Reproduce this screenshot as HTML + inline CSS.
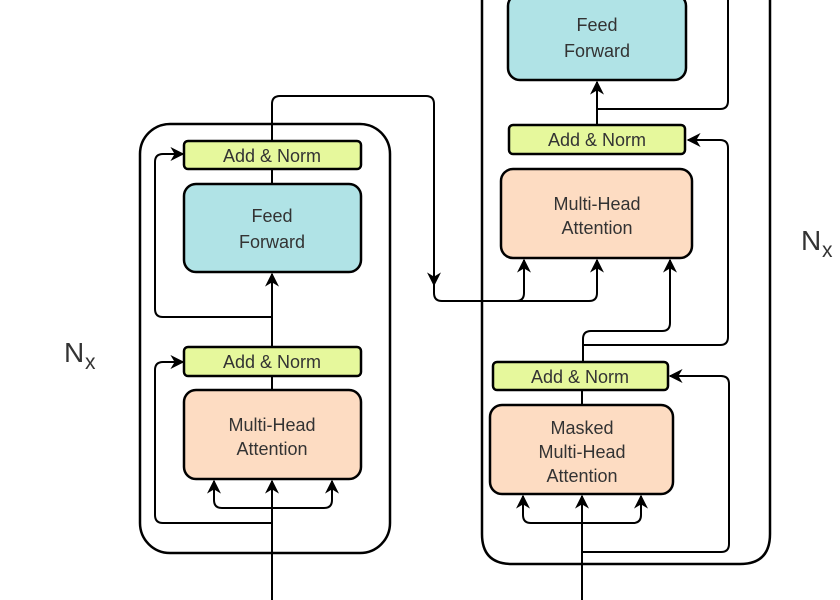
<!DOCTYPE html>
<html><head><meta charset="utf-8"><style>
html,body{margin:0;padding:0;background:#fff;}
svg{display:block;}
text{font-family:"Liberation Sans",Arial,sans-serif;fill:#333;}
</style></head><body>
<svg width="840" height="600" viewBox="0 0 840 600" xmlns="http://www.w3.org/2000/svg">
<defs>
<marker id="a" viewBox="0 0 10 10" refX="9" refY="5" markerWidth="14" markerHeight="14" markerUnits="userSpaceOnUse" orient="auto">
<path d="M0,0 L10,5 L0,10 L3,5 Z" fill="#000"/>
</marker>
</defs>
<g fill="none" stroke="#000" stroke-width="2.5">
<rect x="140" y="124" width="250" height="429" rx="30"/>
<path d="M482,-10 L482,534 Q482,564 512,564 L740,564 Q770,564 770,534 L770,-10"/>
</g>
<g fill="none" stroke="#000" stroke-width="2">
<path d="M272,600 L272,481" marker-end="url(#a)"/>
<path d="M272,508 L222,508 Q214,508 214,500 L214,481" marker-end="url(#a)"/>
<path d="M272,508 L324,508 Q332,508 332,500 L332,481" marker-end="url(#a)"/>
<path d="M272,523 L163,523 Q155,523 155,515 L155,370 Q155,362 163,362 L183,362" marker-end="url(#a)"/>
<path d="M272,390 L272,376"/>
<path d="M272,347 L272,274" marker-end="url(#a)"/>
<path d="M272,317 L163,317 Q155,317 155,309 L155,162 Q155,154 163,154 L183,154" marker-end="url(#a)"/>
<path d="M272,184 L272,169"/>
<path d="M272,141 L272,104 Q272,96 280,96 L426,96 Q434,96 434,104 L434,285" marker-end="url(#a)"/>
<path d="M434,285 L434,293 Q434,301 442,301 L516,301 Q524,301 524,293 L524,260" marker-end="url(#a)"/>
<path d="M516,301 L589,301 Q597,301 597,293 L597,260" marker-end="url(#a)"/>
<path d="M582,600 L582,496" marker-end="url(#a)"/>
<path d="M582,523 L531,523 Q523,523 523,515 L523,496" marker-end="url(#a)"/>
<path d="M582,523 L633,523 Q641,523 641,515 L641,496" marker-end="url(#a)"/>
<path d="M582,552 L721,552 Q729,552 729,544 L729,384 Q729,376 721,376 L670,376" marker-end="url(#a)"/>
<path d="M582,405 L582,390"/>
<path d="M583,362 L583,339 Q583,331 591,331 L662,331 Q670,331 670,323 L670,260" marker-end="url(#a)"/>
<path d="M583,345 L720,345 Q728,345 728,337 L728,148 Q728,140 720,140 L688,140" marker-end="url(#a)"/>
<path d="M597,125 L597,82" marker-end="url(#a)"/>
<path d="M597,109 L720,109 Q728,109 728,101 L728,-10"/>
</g>
<g stroke="#000" stroke-width="2.5">
<rect x="184" y="141" width="177" height="28" rx="4" fill="#e6f89c"/>
<rect x="184" y="184" width="177" height="88" rx="12" fill="#b0e3e6"/>
<rect x="184" y="347" width="177" height="29" rx="4" fill="#e6f89c"/>
<rect x="184" y="390" width="177" height="89" rx="12" fill="#fddcc2"/>
<rect x="508" y="-6" width="178" height="86" rx="12" fill="#b0e3e6"/>
<rect x="509" y="125" width="176" height="29" rx="4" fill="#e6f89c"/>
<rect x="501" y="169" width="191" height="89" rx="12" fill="#fddcc2"/>
<rect x="493" y="362" width="175" height="28" rx="4" fill="#e6f89c"/>
<rect x="490" y="405" width="183" height="89" rx="12" fill="#fddcc2"/>
</g>
<g font-size="18" text-anchor="middle">
<text x="272" y="162">Add &amp; Norm</text>
<text x="272" y="222">Feed</text>
<text x="272" y="248">Forward</text>
<text x="272" y="368">Add &amp; Norm</text>
<text x="272" y="431">Multi-Head</text>
<text x="272" y="455">Attention</text>
<text x="597" y="31">Feed</text>
<text x="597" y="57">Forward</text>
<text x="597" y="146">Add &amp; Norm</text>
<text x="597" y="210">Multi-Head</text>
<text x="597" y="234">Attention</text>
<text x="580" y="383">Add &amp; Norm</text>
<text x="582" y="434">Masked</text>
<text x="582" y="458">Multi-Head</text>
<text x="582" y="482">Attention</text>
</g>
<text x="64" y="362" font-size="28">N</text><text x="85" y="369" font-size="21">x</text>
<text x="801" y="250" font-size="28">N</text><text x="822" y="257" font-size="21">x</text>
</svg>
</body></html>
